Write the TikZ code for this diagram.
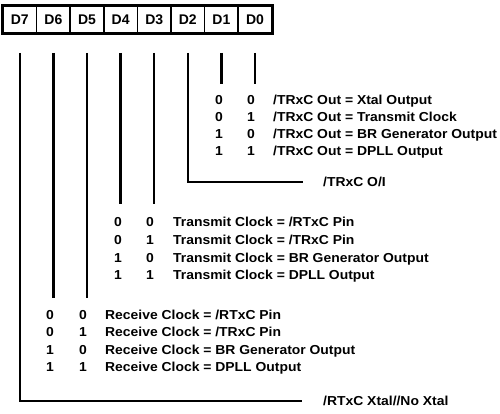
\documentclass[tikz,border=0pt]{standalone}
\usepackage{fontspec}
\setmainfont{Liberation Sans}
\newfontfamily\regfont[FakeStretch=1.07]{Liberation Sans}
\usetikzlibrary{calc,positioning}

\begin{document}
\begin{tikzpicture}[
	x=1pt,y=-1pt,
	cell/.style={draw,line width=1.6pt,minimum width=33.6pt,minimum height=27pt,inner sep=0pt,font={\bfseries\fontsize{14}{16}\selectfont}},
	txt/.style={anchor=west,inner sep=0pt,text height=9.3pt,text depth=0pt,font={\regfont\bfseries\fontsize{13}{15}\selectfont}},
	bit/.style={txt,anchor=center},
	wire/.style={line width=2.4pt}
	]
	\useasboundingbox (0,0) rectangle (500,414);
	\foreach \b [count=\i from 0] in {7,6,...,0}
		\node[cell] (d\b) at ({19.8+33.6*\i},19.5) {D\b};
	\draw[line width=3pt] (d7.north west) rectangle (d0.south east);
	\foreach \b in {0,...,7} \coordinate (t\b) at ($(d\b.south)+(0,19)$);
	\coordinate (e0) at ($(d0.south)+(0,50)$); \coordinate (e1) at ($(d1.south)+(0,50)$);
	\coordinate (e3) at ($(d3.south)+(0,170)$); \coordinate (e4) at ($(d4.south)+(0,170)$);
	\coordinate (e5) at ($(d5.south)+(0,264)$); \coordinate (e6) at ($(d6.south)+(0,264)$);
	\foreach \s [count=\r from 0] in {Xtal Output,Transmit Clock,BR Generator Output,DPLL Output}{
		\pgfmathtruncatemacro\hi{int(\r/2)}\pgfmathtruncatemacro\lo{mod(\r,2)}
		\node[bit] (oa\r) at (219,{100+17*\r}) {\hi};
		\node[bit] (ob\r) at (251,{100+17*\r}) {\lo};
		\node[txt] (ot\r) at (273,{100+17*\r}) {/TRxC Out = \s};
	}
	\foreach \s [count=\r from 0] in {/RTxC Pin,/TRxC Pin,BR Generator Output,DPLL Output}{
		\pgfmathtruncatemacro\hi{int(\r/2)}\pgfmathtruncatemacro\lo{mod(\r,2)}
		\node[bit] (ta\r) at (118,{222+17.7*\r}) {\hi};
		\node[bit] (tb\r) at (150,{222+17.7*\r}) {\lo};
		\node[txt] (tt\r) at (173,{222+17.7*\r}) {Transmit Clock = \s};
	}
	\foreach \s [count=\r from 0] in {/RTxC Pin,/TRxC Pin,BR Generator Output,DPLL Output}{
		\pgfmathtruncatemacro\hi{int(\r/2)}\pgfmathtruncatemacro\lo{mod(\r,2)}
		\node[bit] (ra\r) at (50,{315+17.3*\r}) {\hi};
		\node[bit] (rb\r) at (83,{315+17.3*\r}) {\lo};
		\node[txt] (rt\r) at (105,{315+17.3*\r}) {Receive Clock = \s};
	}
	\node[txt] (io) at (323,182) {/TRxC O/I};
	\node[txt] (xtal) at (323,401) {/RTxC Xtal//No Xtal};
	\foreach \b in {0,1,3,4,5,6} \draw[wire] (t\b) -- (e\b);
	\draw[wire,shorten >=20pt] (t2) |- (io.west);
	\draw[wire,shorten >=21pt] (t7) |- (xtal.west);
\end{tikzpicture}
\end{document}
